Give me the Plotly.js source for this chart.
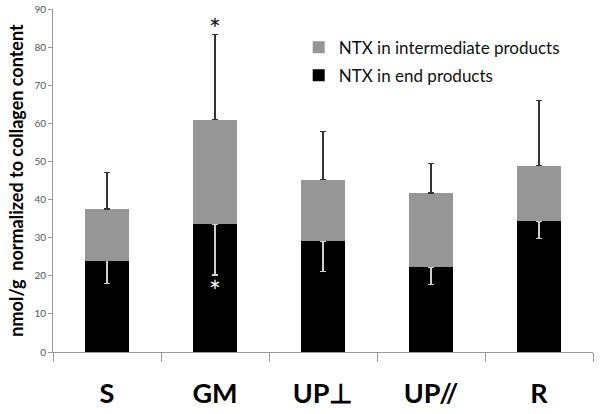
<!DOCTYPE html>
<html><head><meta charset="utf-8">
<script src="https://cdn.plot.ly/plotly-3.0.1.min.js"></script>
<style>html,body{margin:0;padding:0;background:#fff}#chart{width:600px;height:414px}</style>
</head><body><div id="chart"></div>
<script>
const categories = ['S', 'GM', 'UP\u22A5', 'UP//', 'R'];
const endProducts = [24, 33.5, 29, 22.3, 34.3];
const totalProducts = [37.5, 61, 45.2, 41.7, 48.9];
const endErrLower = [6, 13.3, 7.8, 4.5, 4.6];
const totalErrUpper = [9.7, 22.3, 12.6, 7.8, 17];
const intermediateProducts = totalProducts.map((t, i) => +(t - endProducts[i]).toFixed(2));
const zeros = categories.map(() => 0);

const traces = [
  {
    type: 'bar', name: 'NTX in end products', x: categories, y: endProducts,
    marker: {color: '#000000'}, width: 0.4, legendgroup: 'a', legendrank: 2,
    error_y: {type: 'data', symmetric: false, array: zeros, arrayminus: endErrLower,
      color: '#cfcfcf', thickness: 1.2, width: 3}
  },
  {
    type: 'bar', name: 'NTX in intermediate products', x: categories, y: intermediateProducts,
    marker: {color: '#969696'}, width: 0.4, legendgroup: 'b', legendrank: 1,
    error_y: {type: 'data', symmetric: false, array: totalErrUpper, arrayminus: zeros,
      color: '#333333', thickness: 1.2, width: 3}
  }
];

const gm = 1;
const layout = {
  width: 600, height: 414,
  margin: {l: 53, r: 7, t: 9, b: 62},
  barmode: 'stack',
  paper_bgcolor: '#fff', plot_bgcolor: '#fff',
  font: {family: 'Lato, "Open Sans", sans-serif', color: '#000'},
  showlegend: true,
  legend: {x: 0.455, y: 0.94, xanchor: 'left', yanchor: 'top', traceorder: 'grouped',
    tracegroupgap: 3, font: {size: 17, color: '#111'}, bgcolor: 'rgba(0,0,0,0)'},
  xaxis: {
    type: 'category', showline: true, linecolor: '#999', linewidth: 1,
    ticks: 'outside', tickson: 'boundaries', ticklen: 9, tickcolor: '#999',
    tickfont: {size: 27, family: 'Lato, "Open Sans", sans-serif', weight: 'bold', color: '#000'},
    ticklabelstandoff: 18, showgrid: false, zeroline: false, range: [-0.5, 4.5]
  },
  yaxis: {
    range: [0, 90], dtick: 10, showline: true, linecolor: '#999', linewidth: 1,
    ticks: 'outside', ticklen: 4, tickcolor: '#999', showgrid: false, zeroline: false,
    tickfont: {size: 10, color: '#555'},
    title: {text: 'nmol/g  normalized to collagen content', standoff: 6,
      font: {size: 18, weight: 'bold', color: '#000'}}
  },
  annotations: [
    {x: categories[gm], y: totalProducts[gm] + totalErrUpper[gm], xref: 'x', yref: 'y',
     text: '*', showarrow: false, yanchor: 'bottom', yshift: -13, font: {size: 28, color: '#111'}},
    {x: categories[gm], y: endProducts[gm] - endErrLower[gm], xref: 'x', yref: 'y',
     text: '*', showarrow: false, yanchor: 'top', yshift: 3, font: {size: 28, color: '#fff'}}
  ]
};
Plotly.newPlot('chart', traces, layout, {displayModeBar: false, staticPlot: true});
</script></body></html>
